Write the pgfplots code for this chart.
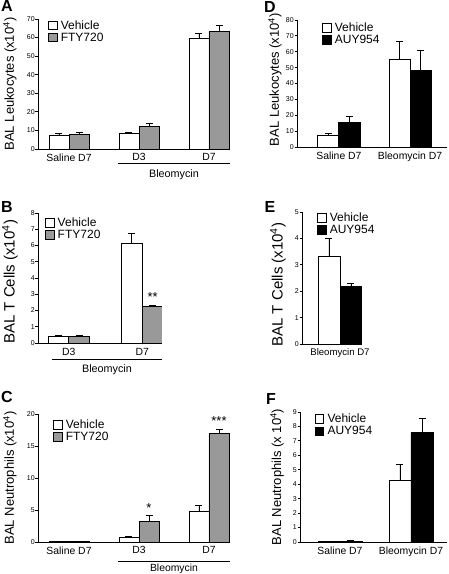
\documentclass[border=0pt]{standalone}
\usepackage{fontspec}
\setmainfont{Liberation Sans}
\usepackage{pgfplots}
\pgfplotsset{compat=1.18}
\definecolor{ftygray}{HTML}{999999}
\pgfplotsset{
  panel/.style={
    scale only axis,
    anchor=south west,
    axis x line=bottom, axis y line=left,
    axis line style={-, line width=0.9pt, black},
    ymin=0,
    ybar,
    x tick style={draw=none},
    y tick style={line width=0.8pt, black},
    tick align=outside, major tick length=2.5pt,
    /pgf/number format/assume math mode=true,
    yticklabel style={font=\fontsize{7}{8}\selectfont, inner sep=0.6pt},
    xticklabel style={font=\fontsize{10.4}{12}\selectfont, inner sep=0pt, anchor=north, yshift=-2pt},
    ylabel style={font=\fontsize{13}{15}\selectfont, anchor=center},
    error bars/y dir=plus, error bars/y explicit,
    error bars/error bar style={line width=0.8pt, black},
    error bars/error mark options={rotate=90, line width=0.8pt, black, mark size=3.5pt},
    legend style={draw=none, fill=none, font=\fontsize{12}{13}\selectfont,
      anchor=north west, inner sep=0pt, row sep=0.5pt, column sep=2.5pt,
      nodes={inner sep=0.8pt}},
    legend cell align=left,
    legend image code/.code={\draw[#1, line width=0.8pt] (0pt,-4pt) rectangle (8.5pt,4.5pt);},
  },
  veh/.style={draw=black, fill=white, line width=0.9pt},
  fty/.style={draw=black, fill=ftygray, line width=0.9pt},
  auy/.style={draw=black, fill=black, line width=0.9pt},
}
\begin{document}
\begin{tikzpicture}
\useasboundingbox (0,0) rectangle (448pt,574pt);

% ---------------- Panel A ----------------
\begin{axis}[panel, at={(38pt,425pt)}, width=192pt, height=130pt,
  xmin=-0.443, xmax=2.3, ymax=70, ytick={0,10,...,70},
  bar width=0.286,
  xtick={0,1,2}, xticklabels={Saline D7, D3, D7},
  ylabel={BAL Leukocytes (x10\textsuperscript{4})},
  ylabel style={at={(axis description cs:-0.146,0.5)}},
  legend style={at={(axis description cs:0.052,0.995)}}]
\addplot[veh, bar shift=-0.143] coordinates {(0,7.2) +- (0,1.1) (1,8.2) +- (0,0.9) (2,59.6) +- (0,2.4)};
\addplot[fty, bar shift=0.143] coordinates {(0,7.9) +- (0,1.1) (1,12.2) +- (0,1.6) (2,63.2) +- (0,3.2)};
\legend{Vehicle, FTY720}
\end{axis}
\draw[line width=0.8pt] (118pt,410.7pt) -- (230pt,410.7pt);
\node[font=\fontsize{10.8}{12}\selectfont, anchor=base] at (174pt,396pt) {Bleomycin};
\node[font=\bfseries\fontsize{16}{16}\selectfont] at (7pt,568pt) {A};

% ---------------- Panel B ----------------
\begin{axis}[panel, at={(38pt,231pt)}, width=124pt, height=130pt,
  xmin=-0.42, xmax=1.27, ymax=8, ytick={0,1,...,8},
  bar width=0.284,
  xtick={0,1}, xticklabels={D3, D7},
  xticklabel style={yshift=-1pt},
  ylabel={BAL T Cells (x10\textsuperscript{4})},
  ylabel style={font=\fontsize{15}{17}\selectfont, at={(axis description cs:-0.226,0.47)}},
  legend style={at={(axis description cs:0.056,0.97)}}]
\addplot[veh, bar shift=-0.142] coordinates {(0,0.43) +- (0,0.04) (1,6.15) +- (0,0.6)};
\addplot[fty, bar shift=0.142] coordinates {(0,0.41) +- (0,0.05) (1,2.23) +- (0,0.07)};
\legend{Vehicle, FTY720}
\node[font=\fontsize{13}{14}\selectfont, anchor=south] at (axis cs:1.142,2.35) {**};
\end{axis}
\draw[line width=0.8pt] (52pt,215pt) -- (162pt,215pt);
\node[font=\fontsize{10.8}{12}\selectfont, anchor=base] at (107pt,201pt) {Bleomycin};
\node[font=\bfseries\fontsize{16}{16}\selectfont] at (7pt,367pt) {B};

% ---------------- Panel C ----------------
\begin{axis}[panel, at={(38pt,32pt)}, width=192pt, height=128pt,
  xmin=-0.443, xmax=2.3, ymax=20, ytick={0,5,...,20},
  bar width=0.286,
  xtick={0,1,2}, xticklabels={Saline D7, D3, D7},
  ylabel={BAL Neutrophils (x10\textsuperscript{4})},
  ylabel style={at={(axis description cs:-0.146,0.5)}},
  legend style={at={(axis description cs:0.078,0.96)}}]
\addplot[veh, bar shift=-0.143] coordinates {(0,0.07) +- (0,0.02) (1,0.72) +- (0,0.1) (2,4.85) +- (0,0.85)};
\addplot[fty, bar shift=0.143] coordinates {(0,0.08) +- (0,0.02) (1,3.28) +- (0,0.8) (2,16.95) +- (0,0.6)};
\legend{Vehicle, FTY720}
\node[font=\fontsize{13}{14}\selectfont, anchor=south] at (axis cs:1.143,4.1) {*};
\node[font=\fontsize{13}{14}\selectfont, anchor=south] at (axis cs:2.143,17.6) {***};
\end{axis}
\draw[line width=0.8pt] (118pt,12.6pt) -- (230pt,12.6pt);
\node[font=\fontsize{10.4}{12}\selectfont, anchor=base] at (174pt,2.5pt) {Bleomycin};
\node[font=\bfseries\fontsize{16}{16}\selectfont] at (7pt,177pt) {C};

% ---------------- Panel D ----------------
\begin{axis}[panel, at={(297pt,427pt)}, width=150pt, height=127pt,
  xmin=-0.59, xmax=1.52, ymax=80, ytick={0,10,...,80},
  bar width=0.296,
  xtick={0,1}, xticklabels={Saline D7, Bleomycin D7},
  ylabel={BAL Leukocytes (x10\textsuperscript{4})},
  ylabel style={at={(axis description cs:-0.147,0.53)}},
  legend style={at={(axis description cs:0.167,0.985)}}]
\addplot[veh, bar shift=-0.148] coordinates {(0,7.0) +- (0,1.5) (1,55.4) +- (0,11.3)};
\addplot[auy, bar shift=0.148] coordinates {(0,15.3) +- (0,4.0) (1,48.4) +- (0,12.2)};
\legend{Vehicle, AUY954}
\end{axis}
\node[font=\bfseries\fontsize{16}{16}\selectfont] at (270pt,567pt) {D};

% ---------------- Panel E ----------------
\begin{axis}[panel, at={(302pt,230pt)}, width=60pt, height=132pt,
  xmin=-0.535, xmax=0.31, ymax=5, ytick={0,1,...,5},
  bar width=0.31,
  xtick={0}, xticklabels={Bleomycin D7},
  xticklabel style={font=\fontsize{9.6}{11}\selectfont},
  ylabel={BAL T Cells (x10\textsuperscript{4})},
  ylabel style={font=\fontsize{15}{17}\selectfont, at={(axis description cs:-0.40,0.45)}},
  legend style={at={(axis description cs:0.25,1.0)}}]
\addplot[veh, bar shift=-0.155] coordinates {(0,3.32) +- (0,0.67)};
\addplot[auy, bar shift=0.155] coordinates {(0,2.19) +- (0,0.1)};
\legend{Vehicle, AUY954}
\end{axis}
\node[font=\bfseries\fontsize{16}{16}\selectfont] at (270pt,367pt) {E};

% ---------------- Panel F ----------------
\begin{axis}[panel, at={(300pt,32pt)}, width=147pt, height=130pt,
  xmin=-0.563, xmax=1.507, ymax=9, ytick={0,1,...,9},
  bar width=0.31,
  xtick={0,1}, xticklabels={Saline D7, Bleomycin D7},
  ylabel={BAL Neutrophils (x 10\textsuperscript{4})},
  ylabel style={at={(axis description cs:-0.156,0.5)}},
  legend style={at={(axis description cs:0.10,0.99)}}]
\addplot[veh, bar shift=-0.155] coordinates {(0,0.02) +- (0,0) (1,4.28) +- (0,1.08)};
\addplot[auy, bar shift=0.155] coordinates {(0,0.05) +- (0,0.04) (1,7.57) +- (0,0.96)};
\legend{Vehicle, AUY954}
\end{axis}
\node[font=\bfseries\fontsize{16}{16}\selectfont] at (271pt,175pt) {F};

\end{tikzpicture}
\end{document}
